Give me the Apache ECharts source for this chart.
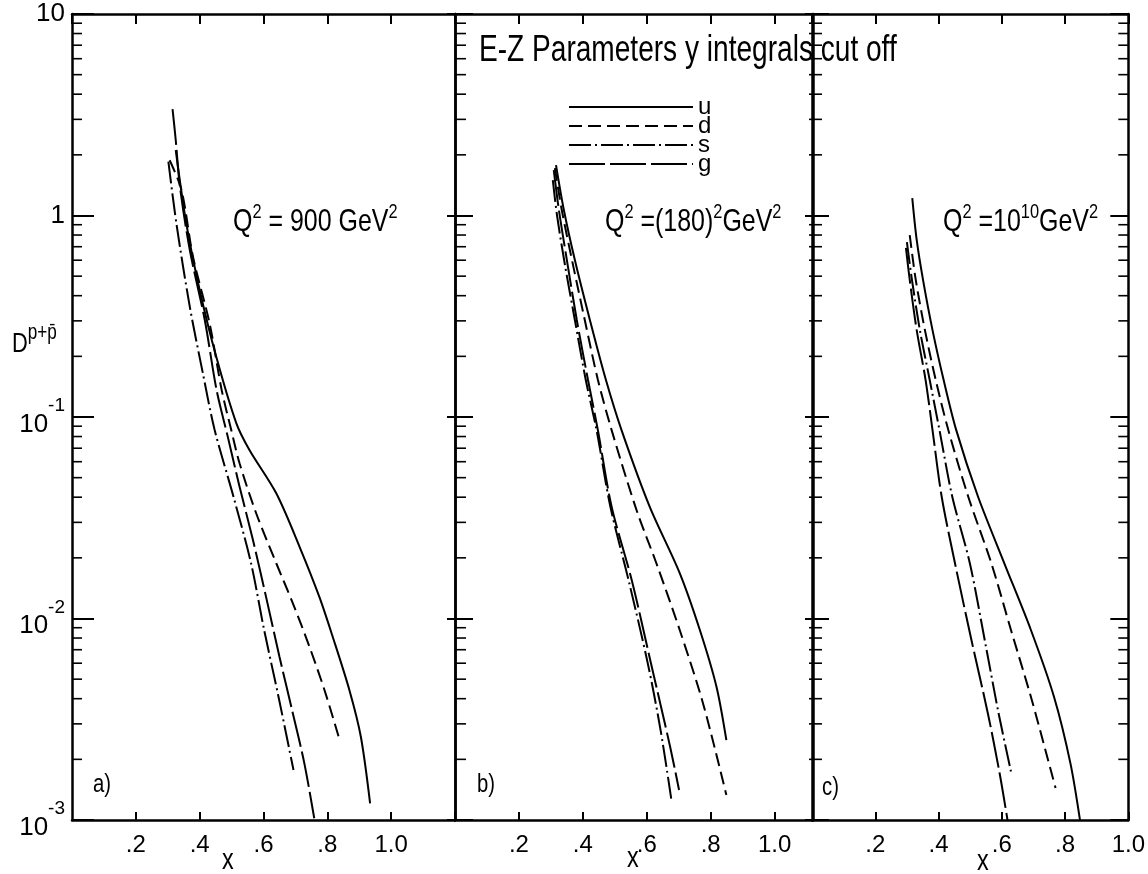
<!DOCTYPE html>
<html><head><meta charset="utf-8">
<script src="https://cdn.jsdelivr.net/npm/echarts@6/dist/echarts.min.js"></script>
<style>html,body{margin:0;padding:0;background:#fff}#c{width:1148px;height:874px}</style>
</head><body><div id="c"></div>
<script>
// ---------------- data (x, D) ----------------
const flavours = ['u', 'd', 's', 'g'];
const xTickValues = [0.2, 0.4, 0.6, 0.8, 1.0];
const xTickLabels = ['.2', '.4', '.6', '.8', '1.0'];
const panelTags = ['a)', 'b)', 'c)'];
const decadeStarts = [0.001, 0.01, 0.1, 1];
const minorMultipliers = [2, 3, 4, 5, 6, 7, 8, 9];

// panel a : Q^2 = 900 GeV^2
const a_u = [[0.325,2.11],[0.358,0.915],[0.400,0.427],[0.452,0.199],[0.515,0.093],[0.556,0.0686],[0.640,0.0418],[0.713,0.0227],[0.775,0.0128],[0.817,0.0081],[0.869,0.00442],[0.905,0.00259],[0.934,0.00121]];
const a_d = [[0.306,1.88],[0.343,1.34],[0.379,0.625],[0.431,0.292],[0.469,0.136],[0.499,0.0861],[0.525,0.0589],[0.577,0.0333],[0.640,0.0188],[0.692,0.0119],[0.744,0.00724],[0.791,0.00442],[0.840,0.00245]];
const a_s = [[0.302,1.85],[0.327,0.915],[0.369,0.353],[0.410,0.165],[0.447,0.0861],[0.506,0.0402],[0.561,0.0188],[0.602,0.00877],[0.647,0.00409],[0.694,0.00177]];
const a_g = [[0.315,3.37],[0.325,2.37],[0.3375,1.42],[0.369,0.675],[0.416,0.303],[0.453,0.136],[0.488,0.0799],[0.525,0.0451],[0.567,0.0245],[0.608,0.0128],[0.650,0.00646],[0.692,0.00338],[0.728,0.00191],[0.759,0.00102]];

// panel b : Q^2 = (180)^2 GeV^2
const b_u = [[0.316,1.78],[0.3406,1.065],[0.375,0.601],[0.422,0.303],[0.472,0.153],[0.521,0.0861],[0.609,0.0359],[0.703,0.0168],[0.766,0.00877],[0.818,0.00459],[0.849,0.00249]];
const b_d = [[0.3125,1.72],[0.334,1.065],[0.366,0.601],[0.406,0.303],[0.447,0.153],[0.490,0.0861],[0.568,0.0345],[0.630,0.0188],[0.703,0.00877],[0.776,0.00379],[0.849,0.00133]];
const b_s = [[0.306,1.5],[0.319,1.006],[0.344,0.568],[0.375,0.303],[0.409,0.153],[0.443,0.0861],[0.486,0.0359],[0.543,0.0155],[0.603,0.0060],[0.643,0.0028],[0.677,0.00126]];
const b_g = [[0.309,1.68],[0.325,1.065],[0.350,0.601],[0.381,0.303],[0.416,0.153],[0.447,0.0861],[0.490,0.0359],[0.553,0.0155],[0.613,0.0060],[0.673,0.00231],[0.701,0.00141]];

// panel c : Q^2 = 10^10 GeV^2
const c_u = [[0.317,1.22],[0.331,0.756],[0.351,0.479],[0.381,0.270],[0.416,0.153],[0.456,0.0861],[0.525,0.0402],[0.608,0.0188],[0.692,0.00877],[0.765,0.00409],[0.817,0.00191],[0.848,0.00098]];
const c_d = [[0.309,0.80],[0.328,0.479],[0.357,0.270],[0.391,0.153],[0.431,0.0861],[0.494,0.0402],[0.567,0.0188],[0.629,0.00877],[0.692,0.00409],[0.738,0.00222],[0.770,0.00144]];
const c_s = [[0.300,0.738],[0.316,0.479],[0.341,0.270],[0.372,0.153],[0.403,0.0861],[0.4435,0.0402],[0.499,0.0188],[0.550,0.00724],[0.590,0.00338],[0.629,0.00174]];
const c_g = [[0.297,0.69],[0.309,0.479],[0.331,0.270],[0.359,0.153],[0.381,0.0861],[0.410,0.0402],[0.452,0.0188],[0.504,0.00782],[0.556,0.00338],[0.593,0.00171],[0.619,0.00098]];

const panelData = [
  { u: a_u, d: a_d, s: a_s, g: a_g },
  { u: b_u, d: b_d, s: b_s, g: b_g },
  { u: c_u, d: c_d, s: c_s, g: c_g }
];

// ---------------- styling / layout ----------------
const FONT = "'Liberation Sans',Arial,sans-serif";
const NARROW = 0.78;
const dashes = { u: 'solid', d: [13, 6], s: [22, 4, 2, 4], g: [36, 5] };
const xMax = [1.2, 1.12, 1.0];
const grids = [
  { left: 72, top: 14, width: 383, height: 806 },
  { left: 455, top: 14, width: 358, height: 806 },
  { left: 812, top: 14, width: 323, height: 806 }
];
// tick lengths per panel: [left major, left minor, right major, right minor]
const tickLen = [[22, 10, 8, 0], [18, 11, 8, 4], [17, 10, 18, 10]];

const minorTickValues = [];
decadeStarts.forEach(d => minorMultipliers.forEach(m => minorTickValues.push(+(d * m).toPrecision(3))));

function xLabel(v) {
  const i = xTickValues.findIndex(t => Math.abs(t - v) < 1e-6);
  return i >= 0 ? xTickLabels[i] : '';
}
function yLabel(v) {
  const e = Math.round(Math.log10(v));
  if (e >= 0) return '{b|' + Math.round(Math.pow(10, e)) + '}';
  return '{b|10}{s|' + e + '}';
}

const xAxes = [], yAxes = [], series = [];
grids.forEach((g, p) => {
  ['bottom', 'top'].forEach(pos => {
    xAxes.push({
      type: 'value', gridIndex: p, position: pos, min: 0, max: xMax[p], interval: 0.2,
      axisLine: { show: true, onZero: false, lineStyle: { color: '#000', width: 2.5 } },
      axisTick: { show: true, inside: true, length: pos === 'bottom' ? 8 : 10, lineStyle: { color: '#000', width: 2 } },
      axisLabel: { show: pos === 'bottom', formatter: xLabel, fontSize: 24, fontFamily: FONT, color: '#000', margin: 13,
                   showMinLabel: false },
      splitLine: { show: false }
    });
  });
  ['left', 'right'].forEach((side, k) => {
    const left = side === 'left';
    yAxes.push({
      type: 'log', logBase: 10, gridIndex: p, position: side, min: 0.001, max: 10,
      axisLine: { show: true, onZero: false, lineStyle: { color: '#000', width: 2.5 } },
      axisTick: { show: true, inside: true, length: tickLen[p][k * 2], lineStyle: { color: '#000', width: 2 } },
      minorTick: { show: false },
      axisLabel: {
        show: p === 0 && left, formatter: yLabel, margin: 7, color: '#000',
        rich: {
          b: { fontSize: 26, fontFamily: FONT, color: '#000', lineHeight: 26, verticalAlign: 'bottom' },
          s: { fontSize: 19, fontFamily: FONT, color: '#000', padding: [0, 0, 22, 0], verticalAlign: 'top' }
        }
      },
      splitLine: { show: false }, minorSplitLine: { show: false }
    });
    // minor ticks (2..9 in each decade) drawn through the axis scales
    const mlen = tickLen[p][k * 2 + 1];
    if (mlen > 0) {
      series.push({
        type: 'custom', xAxisIndex: p * 2, yAxisIndex: p * 2 + k, silent: true, clip: false,
        data: minorTickValues.map(v => [left ? 0 : xMax[p], v]),
        renderItem: (params, api) => {
          const pt = api.coord([api.value(0), api.value(1)]);
          const dir = left ? 1 : -1;
          return { type: 'line', shape: { x1: pt[0], y1: pt[1], x2: pt[0] + dir * mlen, y2: pt[1] },
                   style: { stroke: '#000', lineWidth: 1.6 } };
        }
      });
    }
  });
  flavours.forEach(f => {
    series.push({
      type: 'line', name: f, xAxisIndex: p * 2, yAxisIndex: p * 2,
      data: panelData[p][f], symbol: 'none', showSymbol: false, smooth: 0.3,
      lineStyle: { color: '#000', width: 2, type: dashes[f] },
      itemStyle: { color: '#000' },
      silent: true, animation: false
    });
  });
});

const mrich = (big, small, pad) => ({
  m: { fontSize: big, fontFamily: FONT, fill: '#000', verticalAlign: 'bottom', lineHeight: big },
  s: { fontSize: small, fontFamily: FONT, fill: '#000', verticalAlign: 'top', padding: [0, 0, pad, 0] }
});
const txt = (x, y, text, size, extra) => ({
  type: 'text', x: x, y: y, scaleX: NARROW,
  style: Object.assign({ text: text, fontSize: size, fontFamily: FONT, fill: '#000', verticalAlign: 'middle' }, extra || {})
});

const graphic = [
  txt(479, 51, 'E-Z Parameters y integrals cut off', 36),
  txt(233, 220, '{m|Q}{s|2}{m| = 900 GeV}{s|2}', 32, { rich: mrich(32, 21, 16) }),
  txt(605, 220, '{m|Q}{s|2}{m| =(180)}{s|2}{m|GeV}{s|2}', 32, { rich: mrich(32, 21, 16) }),
  txt(943, 220, '{m|Q}{s|2}{m| =10}{s|10}{m|GeV}{s|2}', 32, { rich: mrich(32, 21, 16) }),
  txt(93, 785, panelTags[0], 26),
  txt(477, 785, panelTags[1], 26),
  txt(822, 788, panelTags[2], 26),
  txt(222, 861, 'x', 30),
  txt(627, 859, 'x', 30),
  txt(977, 862, 'x', 30),
  txt(12, 340, '{m|D}{s|p+p\u0304}', 28, { rich: mrich(28, 22, 14) })
];

const chart = echarts.init(document.getElementById('c'), null, { renderer: 'canvas' });
chart.setOption({
  animation: false,
  backgroundColor: '#fff',
  grid: grids.map(g => Object.assign({ containLabel: false }, g)),
  xAxis: xAxes,
  yAxis: yAxes,
  legend: {
    data: flavours, orient: 'vertical', left: 563, top: 90,
    itemWidth: 124, itemHeight: 2, itemGap: -5, selectedMode: false,
    itemStyle: { opacity: 0 },
    textStyle: { fontSize: 24, fontFamily: FONT, color: '#000' }
  },
  series: series,
  graphic: graphic
});
</script></body></html>
